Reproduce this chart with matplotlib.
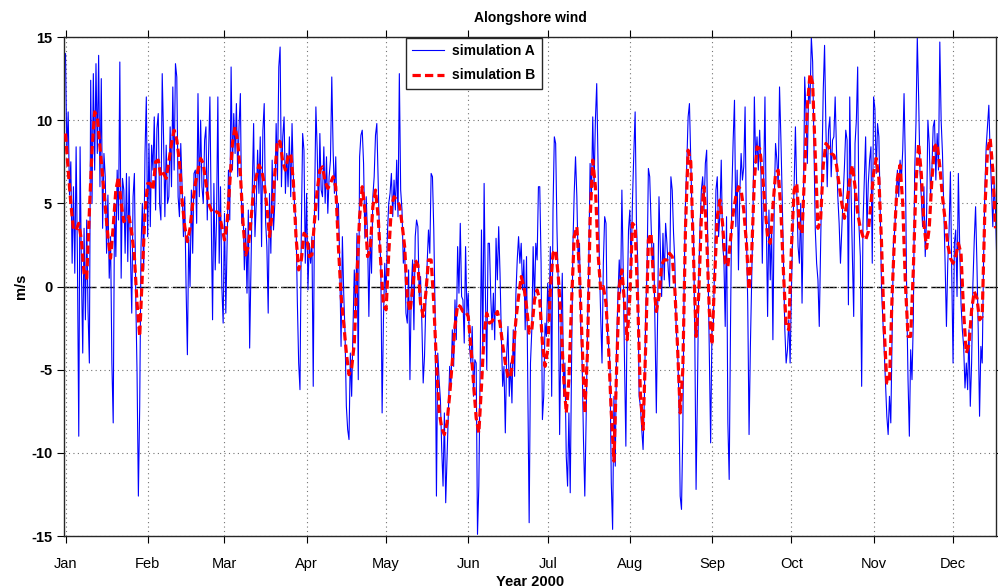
import matplotlib
matplotlib.use("Agg")
import matplotlib.pyplot as plt
import matplotlib.dates as mdates
import pandas as pd

plt.rcParams["axes.unicode_minus"] = False

# Simulation B: daily alongshore wind (m/s) from 1 Jan 2000
sim_b = [
    9.2, 7.0, 5.0, 3.4, 3.4, 3.8, 2.8, 0.8, 0.5, 4.5,
    8.2, 10.5, 10.2, 8.4, 6.6, 4.8, 3.0, 1.7, 3.6, 5.8,
    6.6, 5.0, 3.9, 4.2, 4.2, 3.2, 1.8, -1.0, -3.0, 0.8,
    4.5, 6.2, 6.2, 5.8, 7.5, 7.6, 6.6, 6.8, 6.5, 7.5,
    8.6, 9.4, 8.8, 7.5, 5.2, 3.6, 2.7, 3.5, 5.0, 6.2,
    7.0, 7.7, 7.4, 6.2, 5.0, 4.6, 4.4, 4.5, 4.4, 3.6,
    2.8, 3.8, 6.2, 8.6, 9.6, 8.7, 6.8, 3.8, 1.9, 2.4,
    4.0, 5.8, 6.6, 7.3, 7.0, 6.2, 4.8, 3.0, 4.4, 6.8,
    8.8, 8.7, 7.5, 7.0, 7.8, 8.0, 6.3, 3.0, 1.0, 1.6,
    3.2, 3.0, 1.8, 1.9, 4.0, 5.8, 7.0, 7.2, 6.3, 5.9,
    6.2, 6.6, 6.0, 2.4, -0.5, -2.2, -4.0, -5.3, -4.9, -3.4,
    0.6, 4.2, 6.0, 4.6, 1.8, 2.2, 4.8, 5.8, 4.2, 1.4,
    -1.1, -1.4, 2.0, 4.8, 5.4, 5.2, 4.9, 3.8, 2.4, -0.6,
    -1.5, -0.2, 1.6, 1.3, -1.0, -1.8, -0.4, 1.6, 1.6, -1.0,
    -4.6, -7.5, -8.5, -8.9, -8.2, -6.5, -4.5, -2.4, -1.1, -1.2,
    -1.5, -1.5, -1.8, -3.6, -5.8, -7.9, -8.8, -6.0, -2.8, -1.6,
    -2.2, -2.1, -1.8, -1.5, -2.2, -3.5, -4.6, -5.4, -5.5, -4.0,
    -2.0, -0.6, 0.6, 0.0, -1.2, -2.8, -2.6, -0.8, -0.2, -0.8,
    -3.4, -4.8, -3.8, -0.2, 2.0, 2.2, 0.6, -2.0, -5.4, -7.6,
    -5.6, -1.0, 3.0, 3.6, 0.8, -3.4, -7.6, -4.0, 4.0, 7.6,
    6.0, 2.0, -0.2, 0.0, -1.0, -3.8, -7.6, -10.5, -5.0, 0.0,
    1.0, -1.0, -3.2, -0.6, 3.8, 3.6, -1.0, -6.5, -8.6, -3.5,
    2.8, 3.2, 0.2, -1.5, -0.6, 1.3, 1.6, 1.6, 2.0, 1.8,
    -0.2, -3.6, -7.6, -5.0, 3.5, 8.2, 7.5, 2.0, -3.0, -0.5,
    4.2, 6.0, 3.0, -1.5, -3.5, 0.5, 4.2, 5.2, 3.8, 1.4,
    1.2, 2.8, 4.4, 5.4, 6.0, 5.8, 4.6, 2.6, -0.2, 2.0,
    6.4, 8.4, 8.3, 7.0, 4.8, 3.0, 2.6, 4.8, 6.8, 7.0,
    4.6, 0.8, -2.4, -2.6, 2.4, 5.8, 6.2, 3.6, 3.2, 7.0,
    10.8, 12.8, 12.2, 7.8, 3.5, 4.0, 7.3, 8.6, 8.4, 8.0,
    7.9, 7.3, 6.1, 5.0, 4.1, 5.1, 6.4, 7.3, 6.0, 4.4,
    3.5, 3.0, 2.8, 3.3, 5.0, 6.8, 7.7, 6.5, 2.6, -2.5,
    -5.8, -5.8, -0.5, 3.4, 6.5, 7.3, 5.0, 0.2, -3.0, -3.0,
    1.0, 6.2, 8.6, 6.8, 3.8, 2.3, 3.5, 6.4, 8.4, 8.6,
    7.2, 5.4, 4.0, 2.5, 1.7, 1.4, 1.8, 2.6, 2.0, -1.6,
    -4.0, -3.5, -1.4, -0.3, -0.7, -2.0, -1.8, 4.6, 8.2, 8.9,
    7.0, 3.5,
]

# Simulation A: 12-hourly alongshore wind (m/s) from 1 Jan 2000
sim_a = [
    14.0, 8.0, 10.5, 5.5, 7.5, 1.4, 6.0, 0.8, 8.4, 1.5,
    -9.0, 8.4, 1.0, -4.0, 3.5, -2.0, 4.0, -1.5, -4.6, 12.4,
    5.0, 12.8, 7.0, 13.4, 8.0, 13.9, 6.0, 12.5, 3.5, 8.0,
    6.6, 2.0, 5.5, 0.5, 3.0, -4.6, -8.2, 5.0, 1.8, 7.0,
    4.0, 13.5, 0.5, 6.5, 5.8, 2.0, 6.8, 1.5, 6.6, 2.0,
    -1.6, 5.4, 6.8, -0.5, -5.2, -12.6, -7.2, 2.4, 5.0, 1.0,
    8.0, 11.4, 3.0, 8.6, 3.6, 8.5, 7.0, 10.2, 4.6, 9.5,
    10.4, 5.0, 4.0, 12.8, 9.0, 4.2, 8.5, 5.0, 5.4, 9.6,
    6.0, 12.0, 7.0, 13.4, 12.6, 5.4, 4.2, 8.6, 6.0, 3.0,
    5.4, 0.0, -4.1, 3.0, 0.0, 5.8, 2.0, 6.8, 7.0, 3.8,
    11.6, 5.4, 10.0, 6.0, 5.0, 8.8, 9.6, 4.0, 8.0, 11.4,
    4.2, -2.0, 6.2, 1.0, 4.0, 11.4, 1.4, 6.0, 0.0, -2.2,
    4.4, -1.6, 2.6, 7.0, 4.0, 13.2, 7.0, 10.4, 8.0, 11.0,
    6.6, 9.6, 11.6, 3.8, 5.0, 1.0, 3.5, -0.4, 4.6, -3.7,
    1.2, 6.0, 9.8, 3.0, 5.0, 8.2, 5.6, 9.0, 2.4, 9.4,
    11.0, 4.0, 2.4, -1.6, 5.6, 2.0, 7.6, 3.4, 5.0, 9.8,
    6.4, 13.2, 14.4, 6.0, 9.0, 10.2, 5.6, 8.0, 6.0, 9.0,
    5.4, 9.8, 6.6, 4.6, 4.0, -0.9, -4.6, -6.2, 3.4, 9.2,
    8.2, 1.4, 5.6, -0.2, 2.6, 1.4, 3.0, -6.0, 5.0, 10.8,
    8.2, 4.0, 9.2, 5.8, 5.4, 8.4, 5.0, 7.8, 4.4, 6.6,
    7.6, 12.6, 8.2, 5.6, 7.8, 3.8, 5.0, 1.4, -3.6, 3.0,
    -0.4, -2.8, -7.2, -8.6, -9.2, -4.0, -6.6, -2.6, 1.0, -1.6,
    3.2, -5.6, 7.8, 9.1, 9.4, 7.4, 2.9, 5.4, 3.0, -1.8,
    3.0, 0.8, 5.4, 6.6, 9.1, 9.8, 6.4, 3.0, 1.4, -7.6,
    -2.0, 1.4, -0.5, 3.2, 5.0, 5.6, 6.8, 4.2, 6.4, 4.6,
    7.6, 4.2, 12.8, 5.8, 4.6, 1.4, 2.4, -1.6, -2.2, 1.0,
    -5.6, -0.2, 1.6, -2.6, 3.0, 4.0, 3.6, -0.6, 0.6, -2.2,
    -5.8, -4.2, -1.0, 1.4, 3.4, 2.0, 6.8, 6.6, 3.4, -1.6,
    -12.6, -4.0, -5.6, -6.8, -9.8, -12.0, -7.6, -13.0, -10.4, -7.6,
    -4.8, -6.0, -2.6, -4.8, -0.8, -3.2, 2.4, -0.4, 3.8, -0.6,
    -0.8, -3.4, 2.4, -1.6, -0.4, -3.6, -4.6, -2.4, -6.6, -4.4,
    -4.6, -14.9, -12.0, -5.0, 3.4, -4.0, 6.2, -0.6, -5.0, 2.6,
    2.6, -0.6, -2.6, -0.4, -3.2, 2.9, 0.4, 3.6, 0.8, -3.0,
    -6.0, -4.8, -8.8, -4.2, -2.4, -6.6, -4.6, -7.0, -2.6, -5.4,
    -0.4, 1.6, 3.0, 1.4, 2.6, -0.2, 1.6, -2.6, 1.8, -6.4,
    -14.2, -4.6, -2.6, 2.4, -1.0, 2.6, 1.6, 6.0, 6.0, 1.4,
    -8.0, -6.6, -2.2, -3.0, 0.2, -1.8, 2.4, -6.6, 4.6, 9.0,
    8.6, 3.4, 0.0, -8.9, -2.6, 0.8, -6.6, -4.6, -10.2, -12.0,
    -7.6, -12.4, -4.6, 2.4, 5.6, 7.8, 5.4, 1.4, 2.6, -2.6,
    -4.6, -9.2, -12.6, -8.0, -2.6, 1.4, 7.4, 5.4, 10.2, 6.0,
    10.0, 12.2, 7.4, 1.4, -1.8, -4.6, 1.4, 4.2, 3.8, -2.6,
    -3.6, -4.6, -11.8, -14.6, -6.6, -10.8, -3.6, -0.6, 1.6, -0.4,
    5.8, 1.0, -4.6, -9.6, -1.0, 3.4, 4.6, 1.0, 5.2, 8.0,
    10.5, 3.8, 1.4, -6.6, -7.2, -8.6, -9.8, -6.6, -1.6, 1.0,
    7.1, 6.6, 4.0, 1.2, 2.6, -2.6, -7.6, -1.6, 5.4, 2.4,
    -0.6, 3.2, 0.4, 3.8, 2.6, 1.0, 0.0, 6.6, 5.8, 3.2,
    1.4, -2.6, -3.6, -6.6, -12.6, -13.4, -8.6, 0.4, 5.0, 7.4,
    10.2, 11.0, 7.6, 4.2, 3.6, -2.6, -12.2, -6.6, 0.4, 3.6,
    5.8, 6.6, 4.6, 7.4, 8.2, 1.4, -3.8, -9.4, -2.6, -2.4,
    1.4, 5.8, 6.6, 3.0, 4.4, 7.6, 2.6, 1.6, -2.4, 4.2,
    -8.2, -11.6, -2.4, 5.6, 8.8, 11.2, 3.6, 7.0, 1.0, 5.6,
    8.0, 6.4, 7.2, 10.8, 3.4, -1.0, -8.9, -3.6, 0.4, 4.6,
    11.4, 7.4, 9.0, 7.0, 9.4, 6.8, 1.4, 6.2, 11.4, 4.0,
    -1.8, 4.6, 0.4, 3.6, -3.2, 5.0, 8.6, 7.6, 6.0, 12.0,
    9.0, 5.4, 1.4, -2.6, -4.6, -3.8, -2.0, -4.6, -0.2, 3.4,
    6.0, 9.6, 5.8, 2.4, 1.4, 5.0, -1.0, 4.4, 12.6, 10.4,
    7.4, 12.2, 11.0, 15.0, 13.5, 8.4, 3.4, 1.4, 0.4, -2.4,
    2.4, 6.8, 11.8, 14.5, 9.6, 6.0, 9.4, 10.2, 6.6, 8.8,
    9.0, 11.4, 8.2, 5.4, 3.8, 1.4, 3.4, 5.4, 7.2, 9.4,
    8.8, -1.1, 11.4, 5.8, 1.8, -1.8, 8.6, 10.0, 13.2, 3.6,
    1.8, -6.0, 3.8, 6.4, 9.0, 3.4, 6.2, 7.6, 8.4, 1.4,
    11.4, 10.7, 6.8, 9.8, 9.0, 4.6, -0.2, -2.0, -3.8, -5.8,
    -7.8, -8.9, -6.6, -8.2, -2.6, 2.6, 3.4, 5.4, 7.0, 5.4,
    7.6, 6.4, 8.2, 11.6, 7.4, -0.6, -5.6, -9.0, -3.8, -5.6,
    -2.0, 6.8, 9.8, 15.0, 11.4, 7.0, 5.4, 3.6, 6.0, 1.8,
    4.2, 10.0, 8.6, 5.4, 7.0, 9.6, 10.0, 6.4, 9.2, 7.0,
    14.7, 10.0, 8.0, 4.8, 1.4, -2.4, 1.4, 3.4, 6.9, 0.8,
    -4.6, 2.6, 3.4, -0.6, 6.8, 2.4, -1.0, -2.6, -3.6, -6.1,
    -4.6, -6.2, -2.6, -7.2, -4.6, 0.2, 2.8, 4.8, 1.4, -2.6,
    -7.8, -3.6, -4.6, 1.4, 5.8, 8.4, 9.6, 10.9, 8.0, 6.0,
    3.6, 6.2, 4.6, 1.6,
]

y_ticks = [-15, -10, -5, 0, 5, 10, 15]
legend_labels = ["simulation A", "simulation B"]

time_a = pd.date_range("2000-01-01", periods=len(sim_a), freq="12h")
time_b = pd.date_range("2000-01-01", periods=len(sim_b), freq="D")

narrow = ["Liberation Sans Narrow", "Liberation Sans", "DejaVu Sans"]
plain = ["Liberation Sans", "DejaVu Sans"]

fig = plt.figure(figsize=(9.98, 5.88), dpi=100)
ax = fig.add_axes([0.0641, 0.0884, 0.9339, 0.8486])

ax.axhline(0, color="black", lw=1.0, dashes=(10, 3), zorder=1)
ax.plot(time_a, sim_a, color=(0, 0, 1), lw=0.8, label=legend_labels[0], zorder=2)
ax.plot(time_b, sim_b, color=(1, 0, 0), lw=2.3, dashes=(2.6, 1.3),
        label=legend_labels[1], zorder=3)

ax.set_ylim(-15, 15)
ax.set_yticks(y_ticks)
ax.set_xlim(pd.Timestamp("1999-12-31 10:00"), pd.Timestamp("2000-12-17 05:00"))
ax.xaxis.set_major_locator(mdates.MonthLocator())
ax.xaxis.set_major_formatter(mdates.DateFormatter("%b"))

ax.grid(True, color="0.45", linestyle=(0, (1, 3)), lw=0.8)
ax.tick_params(direction="out", length=5, width=0.8, top=True, right=True,
               labelsize=10.5)
ax.tick_params(axis="x", pad=10)
for lab in ax.get_xticklabels():
    lab.set_family(narrow)
for lab in ax.get_yticklabels():
    lab.set_family(narrow)
    lab.set_fontweight("bold")
for sp in ax.spines.values():
    sp.set_linewidth(1.0)
    sp.set_color("0.15")

ax.set_title("Alongshore wind", fontsize=10, fontweight="bold", family=plain, pad=11)
ax.set_xlabel("Year 2000", fontsize=10.5, fontweight="bold", family=narrow, labelpad=3)
ax.set_ylabel("m/s", fontsize=10.5, fontweight="bold", family=plain, labelpad=2)

leg = ax.legend(loc="upper left", bbox_to_anchor=(0.366, 1.0), borderaxespad=0.05,
                fancybox=False, framealpha=1, edgecolor="0.15", handlelength=2.3,
                handletextpad=0.6, labelspacing=0.75, borderpad=0.45,
                prop={"family": plain, "weight": "bold", "size": 10})
leg.get_frame().set_linewidth(1.0)

fig.savefig("out.png", dpi=100)
